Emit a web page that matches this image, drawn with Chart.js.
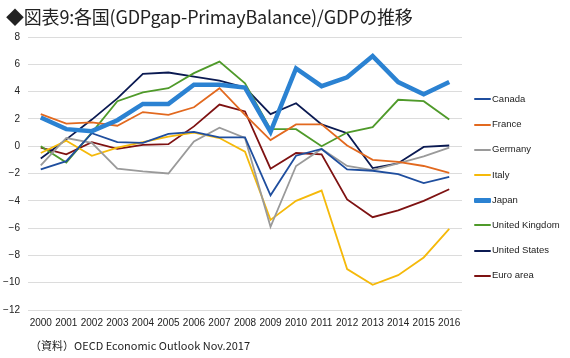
<!DOCTYPE html>
<html>
<head>
<meta charset="utf-8">
<script src="https://cdn.jsdelivr.net/npm/chart.js@4/dist/chart.umd.min.js"></script>
<style>
  body { margin:0; background:#fff; }
  #wrap { position:relative; width:570px; height:358px; overflow:hidden; }
  #title { position:absolute; left:6px; top:3px; font-family:"Noto Sans CJK JP",sans-serif; font-size:18px; color:#222; white-space:nowrap; letter-spacing:-0.2px; }
  #source { position:absolute; left:30px; top:337px; font-family:"Noto Sans CJK JP",sans-serif; font-size:11px; color:#222; white-space:nowrap; }
  #legend { position:absolute; left:474px; top:0; font-family:"Liberation Sans",Arial,sans-serif; font-size:9.5px; color:#222; }
  .item { position:absolute; left:0; white-space:nowrap; height:12px; line-height:12px; }
  .swatch { display:inline-block; width:17px; vertical-align:middle; margin-right:1px; border-radius:1px; }
  canvas { position:absolute; left:0; top:0; }
</style>
</head>
<body>
<div id="wrap">
  <canvas id="chart" width="570" height="358"></canvas>
  <div id="title">◆図表9:各国(GDPgap-PrimayBalance)/GDPの推移</div>
  <div id="legend"></div>
  <div id="source">（資料）OECD Economic Outlook Nov.2017</div>
</div>
<script>
// ===========================
// Data
// ===========================
const years = ["2000","2001","2002","2003","2004","2005","2006","2007","2008","2009","2010","2011","2012","2013","2014","2015","2016"];
const yTicks = [8, 6, 4, 2, 0, -2, -4, -6, -8, -10, -12];

const canada  = [-1.7, -1.1, 0.95, 0.3, 0.25, 0.9, 1.05, 0.65, 0.65, -3.6, -0.7, -0.2, -1.7, -1.8, -2.05, -2.7, -2.25];
const france  = [2.35, 1.65, 1.75, 1.5, 2.5, 2.3, 2.85, 4.25, 2.3, 0.45, 1.6, 1.6, 0.05, -1.0, -1.15, -1.45, -1.95];
const germany = [-1.4, 0.6, 0.25, -1.65, -1.85, -2.0, 0.35, 1.35, 0.6, -5.9, -1.45, -0.2, -1.45, -1.75, -1.25, -0.75, -0.1];
const italy   = [-0.5, 0.4, -0.7, -0.1, 0.3, 0.7, 1.0, 0.6, -0.4, -5.4, -4.0, -3.25, -9.0, -10.15, -9.45, -8.15, -6.05];
const japan   = [2.1, 1.25, 1.1, 1.9, 3.1, 3.1, 4.5, 4.5, 4.3, 1.05, 5.7, 4.4, 5.05, 6.6, 4.7, 3.8, 4.7];
const uk      = [0, -1.2, 1.0, 3.3, 3.95, 4.25, 5.35, 6.2, 4.6, 1.25, 1.25, 0, 1.0, 1.4, 3.4, 3.3, 1.95];
const us      = [-0.9, 0.5, 1.95, 3.5, 5.3, 5.4, 5.1, 4.8, 4.3, 2.35, 3.15, 1.6, 0.95, -1.6, -1.25, -0.05, 0.05];
const euro    = [-0.1, -0.6, 0.3, -0.2, 0.1, 0.15, 1.45, 3.05, 2.55, -1.65, -0.5, -0.6, -3.9, -5.2, -4.7, -4.0, -3.15];

const seriesNames = ["Canada","France","Germany","Italy","Japan","United Kingdom","United States","Euro area"];
const seriesData = [canada, france, germany, italy, japan, uk, us, euro];
const seriesColors = ["#1f4e9e","#e2691f","#9a9a9a","#f5b90a","#2b82d2","#4f9a2a","#0b1a52","#7e1212"];
const seriesWidths = [1.8, 1.8, 1.8, 1.8, 4.5, 1.8, 1.8, 1.8];

// ===========================
// Chart
// ===========================
const datasets = seriesNames.map((name, i) => ({
  label: name,
  data: seriesData[i],
  borderColor: seriesColors[i],
  backgroundColor: seriesColors[i],
  borderWidth: seriesWidths[i],
  pointRadius: 0,
  tension: 0,
  // Japan drawn on top
  order: name === "Japan" ? 0 : 1
}));

new Chart(document.getElementById("chart"), {
  type: "line",
  data: { labels: years, datasets },
  options: {
    responsive: false,
    animation: false,
    layout: { padding: { top: 37, right: 108, bottom: 0, left: 0 } },
    plugins: { legend: { display: false }, tooltip: { enabled: false } },
    scales: {
      x: {
        offset: true,
        grid: { display: false, drawTicks: false },
        border: { display: false },
        ticks: { color: "#222", font: { family: "Liberation Sans, Arial", size: 10 }, padding: 7, maxRotation: 0, autoSkip: false },
        afterFit: s => { s.height = 48; }
      },
      y: {
        min: -12, max: 8,
        afterBuildTicks: s => { s.ticks = yTicks.map(v => ({ value: v })); },
        grid: { color: "#dcdcdc", lineWidth: 1, drawTicks: false },
        border: { display: false },
        ticks: {
          color: "#222", font: { family: "Liberation Sans, Arial", size: 10 }, padding: 8,
          callback: v => String(v).replace("-", "\u2212")
        },
        afterFit: s => { s.width = 28; }
      }
    }
  }
});

// ===========================
// Legend (right side)
// ===========================
const legend = document.getElementById("legend");
seriesNames.forEach((name, i) => {
  const div = document.createElement("div");
  div.className = "item";
  div.style.top = (93 + i * 25.2) + "px";
  div.innerHTML = `<span class="swatch" style="height:${seriesWidths[i] > 3 ? 4.5 : 2}px;background:${seriesColors[i]}"></span>${name}`;
  legend.appendChild(div);
});
</script>
</body>
</html>
